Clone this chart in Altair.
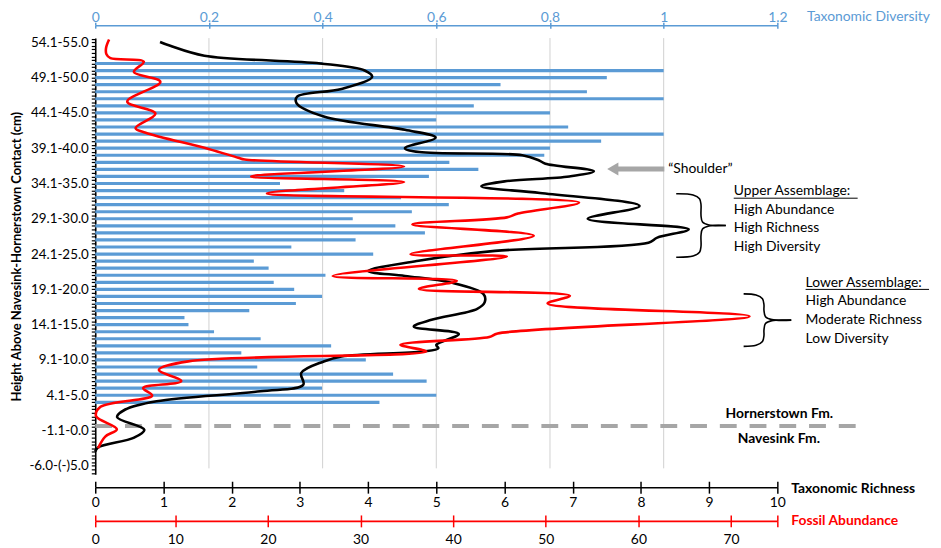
import altair as alt
import pandas as pd

BLUE = "#5B9BD5"
RED = "#FF0000"
GRAY = "#A6A6A6"
GRID = "#D0D0D0"
FONT = "Lato"

# ---------------- data ----------------
# Taxonomic diversity (blue bars), one per 1-cm sample, height = upper bound of interval (cm)
bar_h = [52, 51, 50, 49, 48, 47, 46, 45, 44, 43, 42, 41, 40, 39, 38, 37, 36,
         35, 34, 33, 32, 31, 30, 29, 28, 27, 26, 25, 24, 23, 22, 21, 20, 19,
         18, 17, 16, 15, 14, 13, 12, 11, 10, 9, 8, 7, 6, 5, 4]
bar_div = [0.40, 1.0, 0.90, 0.713, 0.865, 1.0, 0.666, 0.80, 0.60, 0.832, 1.0, 0.89, 0.80, 0.79, 0.623, 0.674, 0.587,
           0.325, 0.438, 0.538, 0.622, 0.557, 0.453, 0.528, 0.58, 0.458, 0.345, 0.489, 0.279, 0.305, 0.405, 0.314, 0.35, 0.399,
           0.353, 0.271, 0.157, 0.164, 0.209, 0.291, 0.415, 0.257, 0.476, 0.285, 0.524, 0.583, 0.399, 0.60, 0.50]

# Taxonomic richness (black curve)
rich_h = [55.05, 54.5, 53.1, 52.0, 51.0, 50.1, 48.4, 47.3, 46.4, 44.5, 42.6, 41.5, 40.0, 39.45, 39.0, 38.3, 37.8,
          36.74, 36.0, 35.3, 34.6, 33.65, 31.8, 30.0, 28.5, 27.33, 26.6, 25.45, 24.05, 22.6, 21.9, 21.0, 19.36,
          18.19, 17.25, 15.7, 14.72, 13.69, 12.14, 11.66, 11.2, 10.49, 9.79, 8.15, 6.5, 5.56, 4.15, 2.98, 1.9,
          0.1, -1.0, -2.4, -3.0]
rich_v = [0.95, 1.1, 1.6, 3.3, 3.95, 4.06, 3.61, 2.96, 2.95, 3.35, 4.54, 4.99, 4.54, 4.75, 6.26, 6.5, 6.6,
          7.31, 6.95, 6.0, 5.66, 6.52, 7.98, 7.22, 8.70, 8.24, 8.11, 5.86, 4.74, 4.0, 4.54, 5.2, 5.69,
          5.71, 5.6, 4.93, 4.67, 5.33, 5.0, 5.03, 4.8, 3.61, 3.35, 3.02, 3.05, 2.42, 0.9, 0.44, 0.32,
          0.72, 0.57, 0.04, 0.0]

# Fossil abundance (red curve)
ab_h = [55.4, 54.2, 53.3, 52.75, 52.25, 50.8, 49.4, 46.6, 44.9, 42.86, 42.2, 39.9, 38.65, 38.4, 37.4, 36.0,
        35.2, 33.6, 32.3, 30.75, 30.2, 29.2, 27.6, 25.0, 24.65, 21.9, 21.2, 20.06, 19.1, 18.0, 16.2, 13.75,
        13.25, 12.15, 11.2, 9.8, 8.6, 7.0, 6.03, 4.95, 3.36, 2.04, 0.2, -0.85, -2.5]
ab_v = [1.73, 1.35, 1.4, 1.9, 6.07, 4.83, 8.14, 4.0, 7.52, 5.04, 6.3, 13.6, 16.8, 17.5, 34.7, 18.2,
        34.7, 19.9, 53.6, 47.0, 45.8, 35.6, 48.7, 35.4, 45.8, 27.0, 40.4, 36.3, 52.6, 50.2, 72.0, 44.8,
        43.9, 34.3, 37.1, 11.4, 7.95, 10.65, 5.98, 7.11, 0.66, 0.1, 2.7, 1.25, 0.35]

contact_h = [0.65]

ylab_vals = [55, 50, 45, 40, 35, 30, 25, 20, 15, 10, 5, 0, -5]
ylab_text = ["54.1-55.0", "49.1-50.0", "44.1-45.0", "39.1-40.0", "34.1-35.0", "29.1-30.0", "24.1-25.0",
             "19.1-20.0", "14.1-15.0", "9.1-10.0", "4.1-5.0", "-1.1-0.0", "-6.0-(-)5.0"]
div_ticks = [0, 0.2, 0.4, 0.6, 0.8, 1.0, 1.2]
rich_ticks = [0, 1, 2, 3, 4, 5, 6, 7, 8, 9, 10]
ab_ticks = [0, 10, 20, 30, 40, 50, 60, 70, 75]

# ---------------- layout helpers ----------------
W, H = 688, 440
Y_DOM = [-6.2, 55.6]


def pr(x):  # page px -> richness units
    return (x - 96) * 10 / W


def ph(y):  # page px -> height units
    return Y_DOM[1] - (y - 36) * (Y_DOM[1] - Y_DOM[0]) / H


yscale = alt.Scale(domain=Y_DOM, nice=False, zero=False)
div_scale = alt.Scale(domain=[0, 1.2], nice=False, zero=False)
rich_scale = alt.Scale(domain=[0, 10], nice=False, zero=False)
ab_scale = alt.Scale(domain=[0, 10, 75], range=[0, 80.7, W], nice=False, zero=False)

y_tick_vals = [-6 + 0.5 * i for i in range(124)]
expr = ""
for v, t in zip(ylab_vals, ylab_text):
    expr += f"datum.value == {v} ? '{t}' : "
expr += "''"

yaxis = alt.Axis(values=y_tick_vals, labelExpr=expr, labelOverlap=False, tickSize=4, tickColor="black",
                 tickWidth=1.2, domainColor="black", domainWidth=1.6, labelFont=FONT, labelFontSize=13.5,
                 labelColor="black", labelPadding=3, grid=False,
                 title="Height Above Navesink-Hornerstown Contact (cm)", titleFont=FONT, titleFontSize=13,
                 titleFontWeight="bold", titleColor="black", titleX=-79, titleY=220, titleAngle=270,
                 titleAlign="center", titleBaseline="middle")


def Y():
    return alt.Y("h:Q", scale=yscale, axis=yaxis)


top_axis = alt.Axis(orient="top", offset=13, values=div_ticks, format="~g", labelFlush=False,
                    labelColor=BLUE, domainColor=BLUE, tickColor=BLUE, tickSize=3, tickWidth=1.5,
                    domainWidth=1.6, labelFont=FONT, labelFontSize=14, labelPadding=1,
                    labelBaseline="alphabetic", grid=False, title=None)
rich_axis = alt.Axis(orient="bottom", offset=13, values=rich_ticks, format="d", labelFlush=False,
                     labelColor="black", domainColor="black", tickColor="black", tickSize=6, tickWidth=1.5,
                     domainWidth=1.6, labelFont=FONT, labelFontSize=14, labelPadding=2, grid=False, title=None)
ab_axis = alt.Axis(orient="bottom", offset=47, values=ab_ticks, labelExpr="datum.value == 75 ? '' : datum.label",
                   labelFlush=False, labelColor="black", domainColor=RED, tickColor=RED, tickSize=6,
                   tickWidth=1.5, domainWidth=1.6, labelFont=FONT, labelFontSize=14, labelPadding=6,
                   grid=False, title=None)


def tick_layer(values, scale, orient, offset, size, color):
    df = pd.DataFrame({"v": values})
    return alt.Chart(df).mark_point(opacity=0).encode(
        x=alt.X("v:Q", scale=scale, axis=alt.Axis(orient=orient, offset=offset, values=values, tickSize=size,
                                                   tickColor=color, tickWidth=1.5, domain=False, labels=False,
                                                   grid=False, title=None)))


# ---------------- layers ----------------
grid = alt.Chart(pd.DataFrame({"d": div_ticks[1:-1]})).mark_rule(color=GRID, strokeWidth=1).encode(
    x=alt.X("d:Q", scale=div_scale, axis=None), y=alt.value(0), y2=alt.value(434))

bars_df = pd.DataFrame({"h": bar_h, "d": bar_div, "d0": [0.0] * len(bar_h)})
bars = alt.Chart(bars_df).mark_rule(color=BLUE, strokeWidth=3.2, strokeCap="butt").encode(
    x=alt.X("d0:Q", scale=div_scale, axis=top_axis), x2="d:Q", y=Y())

contact = alt.Chart(pd.DataFrame({"h": contact_h})).mark_rule(
    color=GRAY, strokeWidth=4, strokeDash=[17, 13]).encode(
    x=alt.value(0), x2=alt.value(767), y=Y())

black = alt.Chart(pd.DataFrame({"h": rich_h, "r": rich_v})).mark_line(
    color="black", strokeWidth=2.6, interpolate="catmull-rom").encode(
    x=alt.X("r:Q", scale=rich_scale, axis=rich_axis), y=Y(),
    order=alt.Order("h:Q", sort="descending"))

red = alt.Chart(pd.DataFrame({"h": ab_h, "a": ab_v})).mark_line(
    color=RED, strokeWidth=2.6, interpolate="catmull-rom").encode(
    x=alt.X("a:Q", scale=ab_scale, axis=ab_axis), y=Y(),
    order=alt.Order("h:Q", sort="descending"))

# annotation: arrow
shaft = alt.Chart(pd.DataFrame({"r": [pr(622)], "r2": [pr(670)], "h": [ph(168)]})).mark_rule(
    color=GRAY, strokeWidth=5, strokeCap="butt").encode(
    x=alt.X("r:Q", scale=rich_scale, axis=None), x2="r2:Q", y=Y())
head = alt.Chart(pd.DataFrame({"r": [pr(618)], "h": [ph(168)]})).mark_point(
    shape="triangle-left", filled=True, size=170, color=GRAY, opacity=1).encode(
    x=alt.X("r:Q", scale=rich_scale, axis=None), y=Y())


def brace_rows(xl, xs, xc, yt, yb, name):
    ym = (yt + yb) / 2
    half = [(xl, yt), (xs - 8, yt + 1.2), (xs - 1.5, yt + 5), (xs, yt + 11), (xs, ym - 10),
            (xs + 1.5, ym - 3.5), (xs + 8, ym - 0.5), (xc, ym)]
    rows = []
    for i, (x, y) in enumerate(half):
        rows.append({"r": pr(x), "h": ph(y), "seg": name + "a", "o": i})
        rows.append({"r": pr(x), "h": ph(yt + yb - y), "seg": name + "b", "o": i})
    return rows


braces = alt.Chart(pd.DataFrame(brace_rows(682, 707, 732, 193, 257, "u") +
                                brace_rows(750, 770.5, 798, 294, 347, "l"))).mark_line(
    color="black", strokeWidth=1.6, interpolate="catmull-rom").encode(
    x=alt.X("r:Q", scale=rich_scale, axis=None), y=Y(),
    detail="seg:N", order="o:Q")

underl = alt.Chart(pd.DataFrame({"r": [pr(740), pr(812.5)], "r2": [pr(865), pr(937)],
                                 "h": [ph(197.5), ph(289.5)]})).mark_rule(color="black", strokeWidth=1).encode(
    x=alt.X("r:Q", scale=rich_scale, axis=None), x2="r2:Q", y=Y())


def txt(rows, **mk):
    df = pd.DataFrame(rows, columns=["r", "h", "t"])
    props = dict(align="left", baseline="middle", font=FONT, fontSize=14, color="black")
    props.update(mk)
    return alt.Chart(df).mark_text(**props).encode(
        x=alt.X("r:Q", scale=rich_scale, axis=None), y=Y(), text="t:N")


t_regular = txt([
    (pr(674), ph(168), "\u201cShoulder\u201d"),
    (pr(740), ph(190), "Upper Assemblage:"),
    (pr(740), ph(209), "High Abundance"),
    (pr(740), ph(227.7), "High Richness"),
    (pr(740), ph(246.7), "High Diversity"),
    (pr(812.5), ph(282.7), "Lower Assemblage:"),
    (pr(812.5), ph(301.7), "High Abundance"),
    (pr(812.5), ph(320.3), "Moderate Richness"),
    (pr(812.5), ph(340), "Low Diversity"),
])
t_center_bold = txt([
    (pr(786), ph(415.7), "Hornerstown Fm."),
    (pr(785.5), ph(440.7), "Navesink Fm."),
], align="center", fontWeight="bold")
t_rich = txt([(pr(798), ph(490.7), "Taxonomic Richness")], fontWeight="bold")
t_ab = txt([(pr(798), ph(522.7), "Fossil Abundance")], fontWeight="bold", color=RED)
t_div = txt([(pr(814), ph(19), "Taxonomic Diversity")], color=BLUE, baseline="alphabetic")

layers = [
    grid,
    bars,
    tick_layer(div_ticks, div_scale, "top", 10, 3, BLUE),
    tick_layer(rich_ticks, rich_scale, "bottom", 7, 6, "black"),
    tick_layer(ab_ticks, ab_scale, "bottom", 41, 6, RED),
    contact,
    black,
    red,
    shaft, head, braces, underl,
    t_regular, t_center_bold, t_rich, t_ab, t_div,
]

chart = alt.layer(*layers).resolve_scale(x="independent").properties(
    width=W, height=H,
    padding={"left": 88, "top": 28, "right": 157, "bottom": 72},
    autosize=alt.AutoSizeParams(type="none"),
).configure_view(stroke=None)

chart.save("out.html", embed_options={"renderer": "svg", "actions": False})
